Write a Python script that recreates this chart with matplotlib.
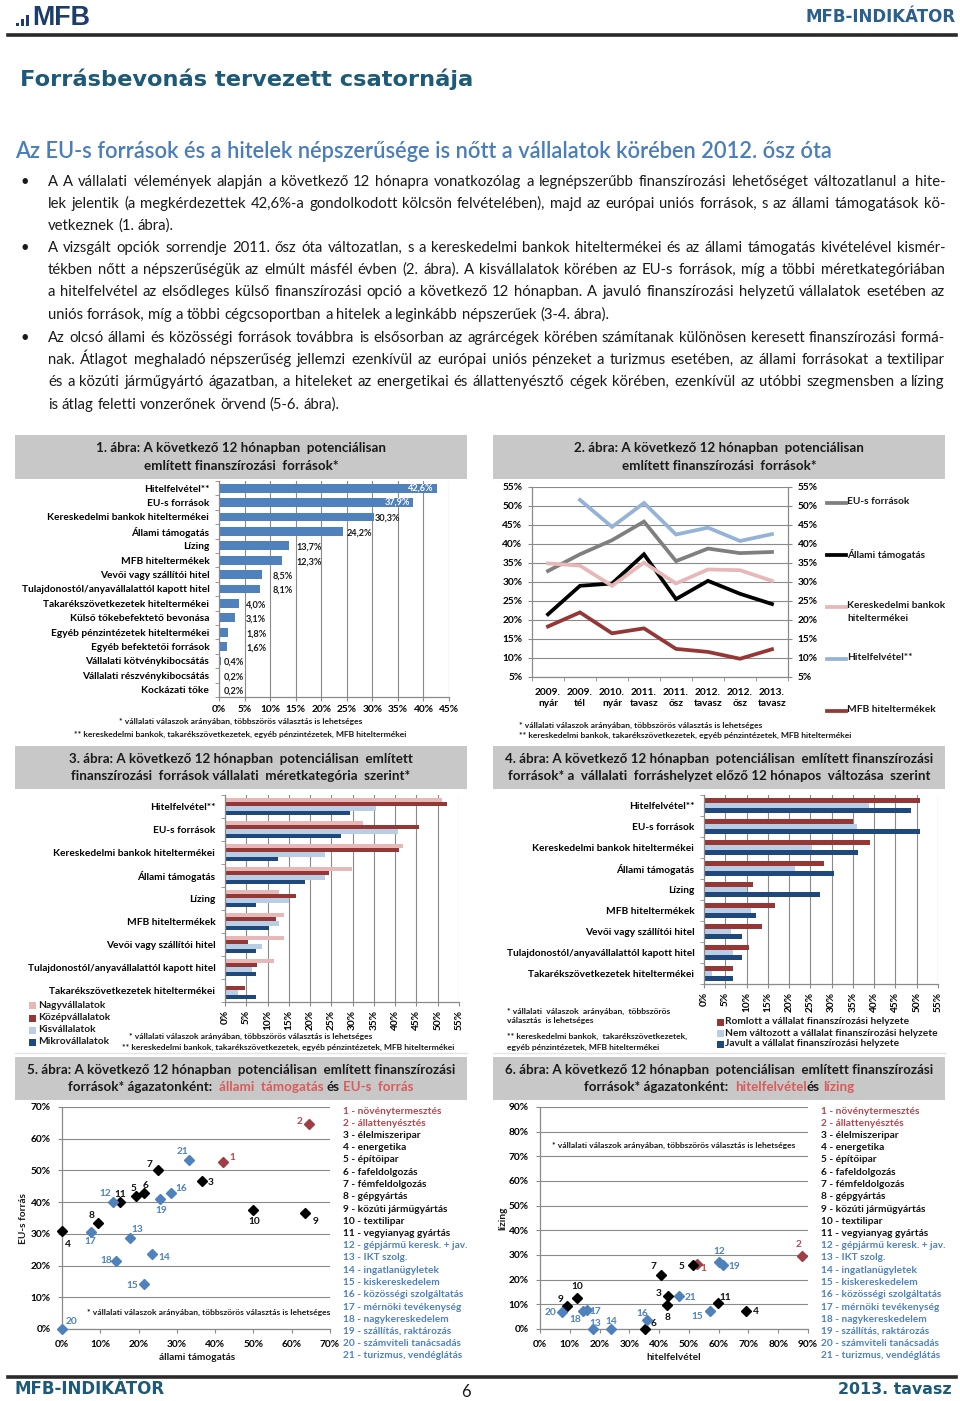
import math
import numpy as np
import matplotlib
matplotlib.use("Agg")
import matplotlib.pyplot as plt
from matplotlib.patches import Rectangle
from matplotlib.lines import Line2D
from matplotlib.font_manager import FontProperties, fontManager, get_font

# ======================= DATA =======================
c1_categories = ['Hitelfelvétel**', 'EU-s források', 'Kereskedelmi bankok hiteltermékei',
                 'Állami támogatás', 'Lízing', 'MFB hiteltermékek', 'Vevői vagy szállítói hitel',
                 'Tulajdonostól/anyavállalattól kapott hitel', 'Takarékszövetkezetek hiteltermékei',
                 'Külső tőkebefektető bevonása', 'Egyéb pénzintézetek hiteltermékei',
                 'Egyéb befektetői források', 'Vállalati kötvénykibocsátás',
                 'Vállalati részvénykibocsátás', 'Kockázati tőke']
c1_values = [42.6, 37.9, 30.3, 24.2, 13.7, 12.3, 8.5, 8.1, 4.0, 3.1, 1.8, 1.6, 0.4, 0.2, 0.2]

c2_periods = ['2009.\nnyár', '2009.\ntél', '2010.\nnyár', '2011.\ntavasz', '2011.\nősz',
              '2012.\ntavasz', '2012.\nősz', '2013.\ntavasz']
c2_eu = [32.9, 37.3, 41.0, 45.9, 35.5, 38.8, 37.6, 37.9]
c2_allami = [21.5, 29.0, 29.6, 37.3, 25.5, 30.3, 26.9, 24.2]
c2_keresk = [34.9, 34.3, 29.0, 35.1, 29.6, 33.3, 33.1, 30.3]
c2_hitel = [np.nan, 51.6, 44.5, 50.8, 42.5, 44.3, 40.8, 42.6]
c2_mfb = [18.3, 22.0, 16.5, 17.8, 12.4, 11.6, 9.8, 12.3]
c2_names = ['EU-s források', 'Állami támogatás', 'Kereskedelmi bankok\nhiteltermékei',
            'Hitelfelvétel**', 'MFB hiteltermékek']

c34_categories = ['Hitelfelvétel**', 'EU-s források', 'Kereskedelmi bankok hiteltermékei',
                  'Állami támogatás', 'Lízing', 'MFB hiteltermékek', 'Vevői vagy szállítói hitel',
                  'Tulajdonostól/anyavállalattól kapott hitel', 'Takarékszövetkezetek hiteltermékei']
c3_series = ['Nagyvállalatok', 'Középvállalatok', 'Kisvállalatok', 'Mikrovállalatok']
c3_nagy = [51.0, 32.4, 41.8, 29.9, 12.7, 13.8, 13.8, 11.5, 0.0]
c3_kozep = [52.2, 45.7, 40.8, 24.5, 16.8, 11.9, 5.4, 7.6, 4.8]
c3_kis = [35.6, 40.6, 23.5, 23.5, 15.0, 12.8, 8.7, 6.4, 3.1]
c3_mikro = [29.4, 27.2, 12.4, 18.8, 7.2, 10.4, 7.2, 7.2, 7.2]

c4_series = ['Romlott a vállalat finanszírozási helyzete',
             'Nem változott a vállalat finanszírozási helyzete',
             'Javult a vállalat finanszírozási helyzete']
c4_romlott = [50.8, 35.1, 39.0, 28.3, 11.5, 16.7, 13.6, 10.6, 6.7]
c4_nem = [38.8, 35.9, 25.5, 21.4, 10.2, 11.0, 6.4, 6.8, 1.8]
c4_javult = [48.6, 50.8, 36.3, 30.6, 27.2, 12.3, 9.0, 9.0, 6.7]

sectors = ['növénytermesztés', 'állattenyésztés', 'élelmiszeripar', 'energetika', 'építőipar',
           'fafeldolgozás', 'fémfeldolgozás', 'gépgyártás', 'közúti járműgyártás', 'textilipar',
           'vegyianyag gyártás', 'gépjármű keresk. + jav.', 'IKT szolg.', 'ingatlanügyletek',
           'kiskereskedelem', 'közösségi szolgáltatás', 'mérnöki tevékenység', 'nagykereskedelem',
           'szállítás, raktározás', 'számviteli tanácsadás', 'turizmus, vendéglátás']
sector_group = ['agr'] * 2 + ['ind'] * 9 + ['svc'] * 10
c5_allami = [42.1, 64.6, 36.5, 0.0, 19.3, 21.4, 25.1, 9.4, 63.5, 50.0, 15.1,
             13.3, 17.8, 23.5, 21.4, 28.5, 7.7, 14.2, 25.5, 0.0, 33.2]
c5_eu = [52.7, 64.7, 46.7, 31.0, 41.9, 43.0, 50.1, 33.3, 36.5, 37.6, 40.0,
         40.0, 28.6, 23.5, 14.3, 42.9, 30.7, 21.4, 41.0, 0.0, 53.4]
c6_hitel = [52.6, 88.0, 43.1, 69.1, 51.5, 35.3, 40.7, 42.7, 9.2, 12.5, 59.8,
            60.0, 17.9, 23.7, 57.0, 35.8, 15.7, 14.5, 61.5, 7.3, 46.8]
c6_lizing = [26.3, 29.6, 13.5, 7.4, 25.9, 0.0, 22.0, 9.7, 9.3, 12.7, 10.4,
             27.0, 0.0, 0.0, 7.3, 3.6, 7.7, 7.2, 25.9, 7.0, 13.5]

# ======================= STYLE / HELPERS =======================
W, H = 960, 1401
fig = plt.figure(figsize=(W / 100, H / 100), dpi=100)
fig.patch.set_facecolor('white')
R = fig.canvas.get_renderer()

FONT = 'Lato'
HEAD = 'DejaVu Sans'
BAR_BLUE = '#4f81bd'
GRID = '#8a8a8a'
TITLE_GRAY = '#c8c8c8'
RED_T = '#d95b5b'
AGR = '#a03d45'
SVC = '#4f81bd'
PINK = '#e6b9b8'
DRED = '#953735'
LBLUE = '#b9cde5'
DBLUE = '#1f497d'
TEAL = '#1d5a78'


def fx(x):
    return x / W


def fy(y):
    return 1 - y / H


def txt(x, y, s, family=None, **kw):
    return fig.text(fx(x), fy(y), s, family=family or FONT, **kw)


def measure(s, fs, weight='normal', family=None):
    t = fig.text(0, 0, s, fontsize=fs, weight=weight, family=family or FONT)
    w = t.get_window_extent(R).width
    t.remove()
    return w


def fit_fs(s, target, weight='normal', family=None):
    return 10.0 * target / measure(s, 10, weight, family)


def baseline_err(s, fs, weight='normal'):
    """Pixel offset of the rendered baseline (Agg rounding) for a single word."""
    try:
        from matplotlib.backends.backend_agg import get_hinting_flag
        prop = FontProperties(family=FONT, size=fs, weight=weight)
        font = get_font(fontManager._find_fonts_by_props(prop))
        font.clear()
        font.set_size(fs, 100)
        font.set_text(s, 0.0, flags=get_hinting_flag())
        w, h = font.get_width_height()
        d = font.get_descent()
        ymax = h - d
        img_h = h // 64 + 2
        base_row = math.floor(ymax / 64) + 1
        return round(d / 64) + 1 - img_h + base_row
    except Exception:
        return 0


def word(x, ybase, s, fs, weight='normal', color='#1a1a1a'):
    yb = round(ybase)
    e = baseline_err(s, fs, weight)
    txt(x, yb - e, s, fontsize=fs, weight=weight, color=color, va='baseline', ha='left')


def axes_px(x0, y0, x1, y1):
    return fig.add_axes([fx(x0), fy(y1), (x1 - x0) / W, (y1 - y0) / H])


def seg_center(xc, y, segs, fs, weight='bold'):
    base = y + 0.30 * fs * 100 / 72
    sp = measure('a a', fs, weight) - measure('aa', fs, weight)
    items, total = [], 0
    for s, c in segs:
        lead = len(s) - len(s.lstrip(' '))
        trail = len(s) - len(s.rstrip(' '))
        core = s.strip(' ')
        w = measure(core, fs, weight)
        items.append((lead * sp, core, c, w, trail * sp))
        total += lead * sp + w + trail * sp
    x = xc - total / 2
    for l, core, c, w, t in items:
        x += l
        word(x, base, core, fs, weight, c)
        x += w + t


def title_box(x0, y0, x1, y1, lines, fs):
    fig.patches.append(Rectangle((fx(x0), fy(y1)), (x1 - x0) / W, (y1 - y0) / H,
                                 transform=fig.transFigure, facecolor=TITLE_GRAY,
                                 edgecolor='none', zorder=0))
    xc = (x0 + x1) / 2
    ym = (y0 + y1) / 2
    for i, segs in enumerate(lines):
        seg_center(xc, ym - 8.8 + i * 17.6, segs, fs)


def style_axes(ax):
    for s in ['top', 'right']:
        ax.spines[s].set_visible(False)
    for s in ['left', 'bottom']:
        ax.spines[s].set_color(GRID)
        ax.spines[s].set_linewidth(0.9)
    ax.set_axisbelow(True)
    ax.set_facecolor('none')


def pct(v):
    return f'{v}%'


# ======================= HEADER =======================
for (bx, bh) in [(16, 3), (21, 7), (26, 11)]:
    fig.patches.append(Rectangle((fx(bx), fy(26)), 3 / W, bh / H, transform=fig.transFigure,
                                 facecolor='#1c3d6b', edgecolor='none'))
fs_logo = fit_fs('MFB', 58, 'bold', 'Liberation Sans')
txt(32, 18, 'MFB', family='Liberation Sans', fontsize=fs_logo, weight='bold',
    color='#1c3d6b', va='center')
fs_ind = fit_fs('MFB-INDIKÁTOR', 150, 'bold', HEAD)
txt(956, 17, 'MFB-INDIKÁTOR', family=HEAD, fontsize=fs_ind, weight='bold', color='#2b5f8e',
    ha='right', va='center')
fig.lines.append(Line2D([fx(8), fx(956)], [fy(35), fy(35)], transform=fig.transFigure,
                        color='#2a2a2a', lw=2.6))
fs_t = fit_fs('Forrásbevonás tervezett csatornája', 453, 'bold', HEAD)
txt(20, 79, 'Forrásbevonás tervezett csatornája', family=HEAD, fontsize=fs_t, weight='bold',
    color=TEAL, va='center')
sub = 'Az EU-s források és a hitelek népszerűsége is nőtt a vállalatok körében 2012. ősz óta'
fs_s = fit_fs(sub, 818, 'semibold')
txt(15, 152, sub, fontsize=fs_s, weight='semibold', color='#4a7ebb', va='center')

# ======================= BODY TEXT =======================
body = [
    [(182, 'A A vállalati vélemények alapján a következő 12 hónapra vonatkozólag a legnépszerűbb finanszírozási lehetőséget változatlanul a hite-'),
     (204, 'lek jelentik (a megkérdezettek 42,6%-a gondolkodott kölcsön felvételében), majd az európai uniós források, s az állami támogatások kö-'),
     (226, 'vetkeznek (1. ábra).')],
    [(248, 'A vizsgált opciók sorrendje 2011. ősz óta változatlan, s a kereskedelmi bankok hiteltermékei és az állami támogatás kivételével kismér-'),
     (270, 'tékben nőtt a népszerűségük az elmúlt másfél évben (2. ábra). A kisvállalatok körében az EU-s források, míg a többi méretkategóriában'),
     (292, 'a hitelfelvétel az elsődleges külső finanszírozási opció a következő 12 hónapban. A javuló finanszírozási helyzetű vállalatok esetében az'),
     (315, 'uniós források, míg a többi cégcsoportban a hitelek a leginkább népszerűek (3-4. ábra).')],
    [(338, 'Az olcsó állami és közösségi források továbbra is elsősorban az agrárcégek körében számítanak különösen keresett finanszírozási formá-'),
     (360, 'nak. Átlagot meghaladó népszerűség jellemzi ezenkívül az európai uniós pénzeket a turizmus esetében, az állami forrásokat a textilipar'),
     (382, 'és a közúti járműgyártó ágazatban, a hiteleket az energetikai és állattenyésztő cégek körében, ezenkívül az utóbbi szegmensben a lízing'),
     (405, 'is átlag feletti vonzerőnek örvend (5-6. ábra).')],
]
BX0, BX1 = 48, 945
BW = 'normal'
nonlast = [l[1] for p in body for l in p[:-1]]
fs_body = min(fit_fs(s, (BX1 - BX0) * 0.985, BW) for s in nonlast)
sp_body = measure('a a', fs_body, BW) - measure('aa', fs_body, BW)
boff = 0.30 * fs_body * 100 / 72
for para in body:
    word(20, para[0][0] + boff, '•', fs_body, BW)
    for i, (yy, line) in enumerate(para):
        words = line.split(' ')
        ws = [measure(w, fs_body, BW) for w in words]
        last = i == len(para) - 1
        gap = sp_body if last else (BX1 - BX0 - sum(ws)) / (len(words) - 1)
        x = BX0
        for w, wd in zip(words, ws):
            word(x, yy + boff, w, fs_body, BW)
            x += wd + gap

# ======================= TITLES =======================
fs_title = fit_fs('4. ábra: A következő 12 hónapban  potenciálisan  említett finanszírozási', 424, 'bold')
K = '#1a1a1a'
title_box(15, 435, 467, 479, [[('1. ábra: A következő 12 hónapban  potenciálisan', K)],
                              [('említett finanszírozási  források*', K)]], fs_title)
title_box(493, 435, 945, 479, [[('2. ábra: A következő 12 hónapban  potenciálisan', K)],
                               [('említett finanszírozási  források*', K)]], fs_title)
title_box(15, 746, 467, 789, [[('3. ábra: A következő 12 hónapban  potenciálisan  említett', K)],
                              [('finanszírozási  források vállalati  méretkategória  szerint*', K)]], fs_title)
title_box(493, 746, 945, 789, [[('4. ábra: A következő 12 hónapban  potenciálisan  említett finanszírozási', K)],
                               [('források* a  vállalati  forráshelyzet előző 12 hónapos  változása  szerint', K)]], fs_title)
title_box(15, 1057, 467, 1100, [[('5. ábra: A következő 12 hónapban  potenciálisan  említett finanszírozási', K)],
                                [('források* ágazatonként:  ', K), ('állami  támogatás', RED_T), (' és ', K),
                                 ('EU-s  forrás', RED_T)]], fs_title)
title_box(493, 1057, 945, 1100, [[('6. ábra: A következő 12 hónapban  potenciálisan  említett finanszírozási', K)],
                                 [('források* ágazatonként:  ', K), ('hitelfelvétel', RED_T), ('és ', K),
                                  ('lízing', RED_T)]], fs_title)

FS_LAB = 7.3
FS_NOTE = fit_fs('** kereskedelmi bankok, takarékszövetkezetek, egyéb pénzintézetek, MFB hiteltermékei', 335, 'bold')
note1 = '* vállalati válaszok arányában, többszörös választás is lehetséges'
note2 = '** kereskedelmi bankok, takarékszövetkezetek, egyéb pénzintézetek, MFB hiteltermékei'

# ======================= CHART 1 =======================
ax1 = axes_px(219, 481, 449, 697)
style_axes(ax1)
n1 = len(c1_categories)
y1 = np.arange(n1)
ax1.barh(y1, c1_values, height=0.6, color=BAR_BLUE, zorder=2)
ax1.set_xlim(0, 45)
ax1.set_ylim(n1 - 0.5, -0.5)
ax1.set_xticks(np.arange(0, 46, 5))
ax1.set_xticklabels([pct(v) for v in range(0, 46, 5)], fontsize=FS_LAB, weight='bold', family=FONT)
ax1.set_yticks(y1)
ax1.set_yticklabels(c1_categories, fontsize=FS_LAB, weight='bold', family=FONT)
ax1.set_yticks(np.arange(-0.5, n1, 1), minor=True)
ax1.tick_params(axis='y', which='major', length=0, pad=7)
ax1.tick_params(axis='y', which='minor', length=3, color=GRID)
ax1.tick_params(axis='x', length=3, color=GRID, pad=3)
ax1.grid(axis='x', color=GRID, lw=0.8)
lab_pos = [None, None, 30.5, 24.9, 15.2, 15.2, 10.5, 10.5, 5.3, 5.3, 5.3, 5.3, 0.9, 0.9, 0.9]
for yy, v, lp in zip(y1, c1_values, lab_pos):
    s = f'{v:.1f}%'.replace('.', ',')
    if lp is None:
        ax1.text(v - 0.6, yy, s, ha='right', va='center', color='white', fontsize=6.6,
                 weight='bold', family=FONT, zorder=3)
    else:
        ax1.text(lp, yy + 0.1, s, ha='left', va='center', color='#1a1a1a', fontsize=6.6,
                 weight='bold', family=FONT, zorder=3)
txt(241, 721, note1, fontsize=FS_NOTE, weight='bold', ha='center', va='center', color=K)
txt(240, 734, note2, fontsize=FS_NOTE, weight='bold', ha='center', va='center', color=K)

# ======================= CHART 2 =======================
ax2 = axes_px(532, 487, 788, 677)
style_axes(ax2)
ax2.spines['right'].set_visible(True)
ax2.spines['right'].set_color(GRID)
xp = np.arange(len(c2_periods))
c2_vals = [c2_eu, c2_allami, c2_keresk, c2_hitel, c2_mfb]
c2_cols = ['#7f7f7f', '#000000', PINK, '#95b3d7', DRED]
for vals, col in zip(c2_vals, c2_cols):
    ax2.plot(xp, vals, color=col, lw=2.7, solid_joinstyle='miter', zorder=3)
ax2.set_xlim(-0.5, len(xp) - 0.5)
ax2.set_ylim(5, 55)
yt = np.arange(5, 56, 5)
ax2.set_yticks(yt)
ax2.set_yticklabels([pct(v) for v in yt], fontsize=FS_LAB, weight='bold', family=FONT)
ax2.set_xticks(xp)
ax2.set_xticklabels(c2_periods, fontsize=FS_LAB, weight='bold', family=FONT, linespacing=1.25)
ax2.set_xticks(np.arange(-0.5, len(xp), 1), minor=True)
ax2.tick_params(axis='x', which='major', length=0, pad=8)
ax2.tick_params(axis='x', which='minor', length=3, color=GRID)
ax2.tick_params(axis='y', length=3, color=GRID, pad=4)
ax2.grid(axis='y', color=GRID, lw=0.8)
ax2r = ax2.twinx()
ax2r.set_ylim(5, 55)
ax2r.set_yticks(yt)
ax2r.set_yticklabels([pct(v) for v in yt], fontsize=FS_LAB, weight='bold', family=FONT)
ax2r.tick_params(axis='y', length=3, color=GRID, pad=4)
for s in ['top', 'left', 'bottom']:
    ax2r.spines[s].set_visible(False)
ax2r.spines['right'].set_color(GRID)
leg_y = [503, 555, 607, 659, 711]
for name, col, ly in zip(c2_names, c2_cols, leg_y):
    fig.lines.append(Line2D([fx(827), fx(846)], [fy(ly), fy(ly)], transform=fig.transFigure,
                            color=col, lw=2.7))
    txt(847, ly - 6, name, fontsize=FS_LAB, weight='bold', ha='left', va='top', color=K,
        linespacing=1.55)
txt(519, 725, note1, fontsize=FS_NOTE, weight='bold', ha='left', va='center', color=K)
txt(519, 735, note2, fontsize=FS_NOTE, weight='bold', ha='left', va='center', color=K)


# ======================= CHART 3 & 4 =======================
def grouped_barh(ax, series_vals, colors, bh, xmax):
    style_axes(ax)
    n = len(c34_categories)
    yy = np.arange(n)
    k = len(series_vals)
    for i, (vals, col) in enumerate(zip(series_vals, colors)):
        ax.barh(yy + (i - (k - 1) / 2) * bh, vals, height=bh, color=col, zorder=2)
    ax.set_xlim(0, xmax)
    ax.set_ylim(n - 0.5, -0.5)
    xt = np.arange(0, xmax + 1, 5)
    ax.set_xticks(xt)
    ax.set_xticklabels([pct(v) for v in xt], fontsize=FS_LAB, weight='bold', family=FONT,
                       rotation=90)
    ax.set_yticks(yy)
    ax.set_yticklabels(c34_categories, fontsize=FS_LAB, weight='bold', family=FONT)
    ax.set_yticks(np.arange(-0.5, n, 1), minor=True)
    ax.tick_params(axis='y', which='major', length=0, pad=7)
    ax.tick_params(axis='y', which='minor', length=3, color=GRID)
    ax.tick_params(axis='x', length=3, color=GRID, pad=3)
    ax.grid(axis='x', color=GRID, lw=0.8)


ax3 = axes_px(225, 795, 459, 1002)
c3_cols = [PINK, DRED, LBLUE, DBLUE]
grouped_barh(ax3, [c3_nagy, c3_kozep, c3_kis, c3_mikro], c3_cols, 0.19, 55)
for name, col, ly in zip(c3_series, c3_cols, [1005, 1018, 1030, 1042]):
    fig.patches.append(Rectangle((fx(29), fy(ly + 3.5)), 7 / W, 7 / H, transform=fig.transFigure,
                                 facecolor=col, edgecolor='none'))
    txt(38, ly, name, fontsize=FS_LAB, weight='bold', ha='left', va='center', color=K)
txt(129, 1036, note1, fontsize=FS_NOTE, weight='bold', ha='left', va='center', color=K)
txt(122, 1047, note2, fontsize=FS_NOTE, weight='bold', ha='left', va='center', color=K)

ax4 = axes_px(704, 795, 938, 984)
c4_cols = [DRED, LBLUE, DBLUE]
grouped_barh(ax4, [c4_romlott, c4_nem, c4_javult], c4_cols, 0.24, 55)
for name, col, ly in zip(c4_series, c4_cols, [1022, 1033, 1044]):
    fig.patches.append(Rectangle((fx(717), fy(ly + 3.5)), 7 / W, 7 / H, transform=fig.transFigure,
                                 facecolor=col, edgecolor='none'))
    txt(725, ly, name, fontsize=FS_LAB, weight='bold', ha='left', va='center', color=K)
for ly, s in zip([1011, 1021, 1036, 1047],
                 ['* vállalati  válaszok  arányában,  többszörös', 'választás  is lehetséges',
                  '** kereskedelmi bankok,  takarékszövetkezetek,', 'egyéb pénzintézetek, MFB hiteltermékei']):
    txt(507, ly, s, fontsize=FS_NOTE, weight='bold', ha='left', va='center', color=K)

fig.lines.append(Line2D([fx(15), fx(467)], [fy(1053), fy(1053)], transform=fig.transFigure,
                        color='#e4e4e4', lw=1))
fig.lines.append(Line2D([fx(493), fx(945)], [fy(1053), fy(1053)], transform=fig.transFigure,
                        color='#e4e4e4', lw=1))

# ======================= CHART 5 & 6 =======================
grp_col = {'agr': AGR, 'ind': '#000000', 'svc': SVC}
grp_txt = {'agr': '#b5474f', 'ind': '#111111', 'svc': '#4f81bd'}


def scatter_chart(ax, xs, ys, lim, offsets):
    style_axes(ax)
    for i, (xv, yv, g) in enumerate(zip(xs, ys, sector_group)):
        ax.plot(xv, yv, 'D', ms=4.6, color=grp_col[g], clip_on=False, zorder=4)
        dx, dy = offsets[i]
        ax.annotate(str(i + 1), (xv, yv), xytext=(dx, -dy), textcoords='offset pixels',
                    ha='center', va='center', fontsize=FS_LAB, weight='bold', family=FONT,
                    color=grp_txt[g], annotation_clip=False)
    ax.set_xlim(0, lim)
    ax.set_ylim(0, lim)
    t = np.arange(0, lim + 1, 10)
    ax.set_xticks(t)
    ax.set_yticks(t)
    ax.set_xticklabels([pct(v) for v in t], fontsize=FS_LAB, weight='bold', family=FONT)
    ax.set_yticklabels([pct(v) for v in t], fontsize=FS_LAB, weight='bold', family=FONT)
    ax.tick_params(length=3, color=GRID, pad=5)
    ax.grid(axis='y', color=GRID, lw=0.8)


def sector_list(x, y0):
    for i, (name, g) in enumerate(zip(sectors, sector_group)):
        txt(x, y0 + i * 12.25, f'{i + 1} - {name}', fontsize=FS_LAB, weight='bold',
            ha='left', va='center', color=grp_txt[g])


ax5 = axes_px(62, 1107, 330, 1329)
off5 = [(9, -4), (-10, -2), (9, 2), (6, 14), (-2, -8), (2, -7), (-9, -6), (-6, -8), (10, 8),
        (1, 12), (0, -8), (-8, -9), (7, -9), (12, 3), (-12, 2), (10, -4), (-1, 10), (-10, -1),
        (2, 12), (10, -7), (-7, -8)]
scatter_chart(ax5, c5_allami, c5_eu, 70, off5)
txt(24, 1218, 'EU-s forrás', fontsize=FS_LAB, weight='bold', rotation=90, ha='center',
    va='center', color=K)
txt(197, 1358, 'állami támogatás', fontsize=FS_LAB, weight='bold', ha='center', va='center', color=K)
txt(87, 1312, note1, fontsize=FS_NOTE, weight='bold', ha='left', va='center', color=K)
sector_list(343, 1111)

ax6 = axes_px(540, 1107, 808, 1329)
off6 = [(7, 4), (-3, -11), (-10, -2), (10, 1), (-12, 1), (8, -5), (-8, -8), (0, 12), (-7, -7),
        (0, -11), (7, -6), (1, -11), (2, -6), (1, -7), (-12, 6), (-4, -7), (9, 1), (-8, 8),
        (11, 1), (-11, 1), (11, 2)]
scatter_chart(ax6, c6_hitel, c6_lizing, 90, off6)
txt(503, 1218, 'lízing', fontsize=FS_LAB, weight='bold', rotation=90, ha='center',
    va='center', color=K)
txt(674, 1358, 'hitelfelvétel', fontsize=FS_LAB, weight='bold', ha='center', va='center', color=K)
txt(552, 1145, note1, fontsize=FS_NOTE, weight='bold', ha='left', va='center', color=K)
sector_list(821, 1111)

# ======================= FOOTER =======================
fig.lines.append(Line2D([fx(8), fx(956)], [fy(1377), fy(1377)], transform=fig.transFigure,
                        color='#2a2a2a', lw=2.6))
txt(15, 1389, 'MFB-INDIKÁTOR', family=HEAD, fontsize=fs_ind, weight='bold', color=TEAL,
    ha='left', va='center')
txt(466, 1392, '6', fontsize=12, color='#1a1a1a', ha='center', va='center')
fs_f = fit_fs('2013. tavasz', 114, 'bold', HEAD)
txt(952, 1389, '2013. tavasz', family=HEAD, fontsize=fs_f, weight='bold', color=TEAL,
    ha='right', va='center')

fig.savefig('out.png', dpi=100)
